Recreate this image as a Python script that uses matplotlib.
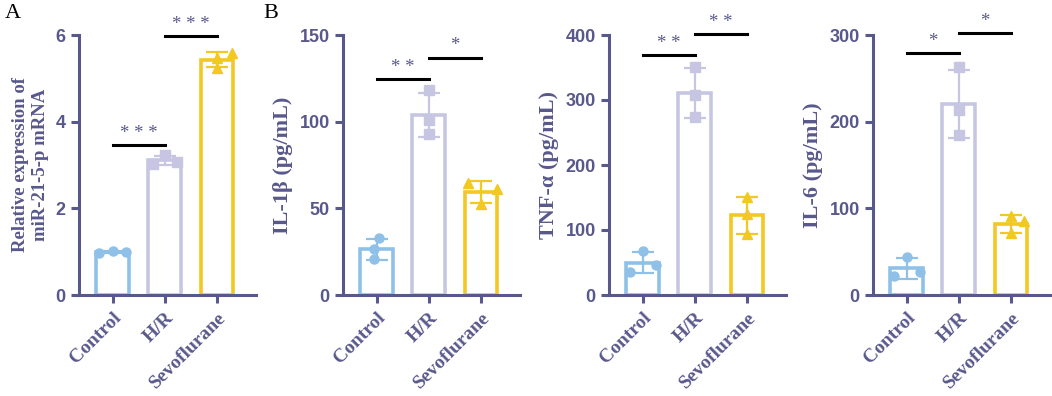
import matplotlib
matplotlib.use('Agg')
import matplotlib.pyplot as plt
import numpy as np

groups = ['Control', 'H/R', 'Sevoflurane']

# replicate values, one list per group
mir_vals = [[0.98, 1.02, 0.99], [3.02, 3.22, 3.08], [5.47, 5.58, 5.25]]
il1b_vals = [[32.7, 26.3, 20.6], [118.0, 101.0, 93.0], [64.5, 61.0, 52.5]]
tnf_vals = [[68.0, 36.0, 46.0], [351.0, 308.0, 274.0], [151.0, 124.0, 94.0]]
il6_vals = [[44.0, 22.0, 26.0], [263.0, 213.0, 185.0], [91.0, 85.0, 71.0]]

ylabels = ['Relative expression of\nmiR-21-5-p mRNA', 'IL-1\u03b2 (pg/mL)',
           'TNF-\u03b1 (pg/mL)', 'IL-6 (pg/mL)']
yticks = [[0, 2, 4, 6], [0, 50, 100, 150], [0, 100, 200, 300, 400], [0, 100, 200, 300]]

# significance brackets: (left group, right group, height, stars)
sig_mir = [(0, 1, 3.46, '* * *'), (1, 2, 5.98, '* * *')]
sig_il1b = [(0, 1, 124.8, '* *'), (1, 2, 137.0, '*')]
sig_tnf = [(0, 1, 369.0, '* *'), (1, 2, 401.5, '* *')]
sig_il6 = [(0, 1, 279.0, '*'), (1, 2, 302.0, '*')]

# horizontal scatter of the dots inside each bar
jit_mir = [[-0.26, 0.0, 0.26], [-0.22, 0.0, 0.24], [0.0, 0.28, 0.0]]
jit_il1b = [[0.05, -0.05, -0.05], [0.0, 0.0, 0.0], [-0.25, 0.3, 0.0]]
jit_tnf = [[0.0, -0.25, 0.25], [0.0, 0.0, 0.0], [0.0, 0.0, 0.0]]
jit_il6 = [[0.0, -0.25, 0.25], [0.0, 0.0, 0.0], [0.0, 0.25, 0.0]]

colors = ['#8fc1e8', '#c6c6e3', '#f2c822']
markers = ['o', 's', '^']
axcol = '#58588c'
serif = 'Liberation Serif'
sans = 'Liberation Sans'

fig = plt.figure(figsize=(10.52, 3.96), dpi=100)

lefts = [79, 343, 609, 873]
label_sizes = [13.5, 16, 16, 16]
W, H = 1052.0, 396.0
panels = [(mir_vals, sig_mir, jit_mir), (il1b_vals, sig_il1b, jit_il1b),
          (tnf_vals, sig_tnf, jit_tnf), (il6_vals, sig_il6, jit_il6)]

for k, (vals, sigs, jit) in enumerate(panels):
    ax = fig.add_axes([lefts[k] / W, (H - 295) / H, 177 / W, 260 / H])
    x = np.arange(len(groups))
    means = [np.mean(v) for v in vals]
    sds = [np.std(v, ddof=1) for v in vals]
    for i in range(len(groups)):
        ax.bar(x[i], means[i], width=0.63, facecolor='white', edgecolor=colors[i],
               linewidth=2.6, zorder=2)
        ax.errorbar(x[i], means[i], yerr=sds[i], color=colors[i], lw=1.6,
                    capsize=8, capthick=1.6, zorder=3)
        ax.plot(x[i] + np.array(jit[i]), vals[i], linestyle='none', marker=markers[i],
                color=colors[i], markersize=6.5, zorder=4, clip_on=False)
    top = yticks[k][-1]
    for a, b, h, s in sigs:
        ax.plot([x[a], x[b]], [h, h], color='black', lw=2.2, clip_on=False, zorder=5)
        ax.text((x[a] + x[b]) / 2, h + top * 0.012, s, ha='center', va='bottom',
                color=axcol, fontsize=13.5, family=serif)
    ax.set_xlim(-0.65, 2.75)
    ax.set_ylim(0, top)
    ax.set_yticks(yticks[k])
    ax.set_xticks(x)
    ax.set_xticklabels(groups, rotation=45, ha='right', rotation_mode='anchor',
                       family=serif, fontweight='bold', fontsize=14, color=axcol)
    for lab in ax.get_yticklabels():
        lab.set_family(sans)
        lab.set_fontweight('bold')
        lab.set_fontsize(13)
        lab.set_color(axcol)
    ax.set_ylabel(ylabels[k], family=serif, fontweight='bold', fontsize=label_sizes[k],
                  color=axcol, labelpad=5)
    for sp in ['top', 'right']:
        ax.spines[sp].set_visible(False)
    for sp in ['left', 'bottom']:
        ax.spines[sp].set_color(axcol)
        ax.spines[sp].set_linewidth(2.2)
    ax.tick_params(axis='both', colors=axcol, width=2.2, length=6, direction='out')
    ax.tick_params(axis='x', pad=4)

fig.text(5 / W, 1 - 13 / H, 'A', family=serif, fontsize=16, va='center', ha='left')
fig.text(263 / W, 1 - 13 / H, 'B', family=serif, fontsize=16, va='center', ha='left')

fig.savefig('out.png', dpi=100)
